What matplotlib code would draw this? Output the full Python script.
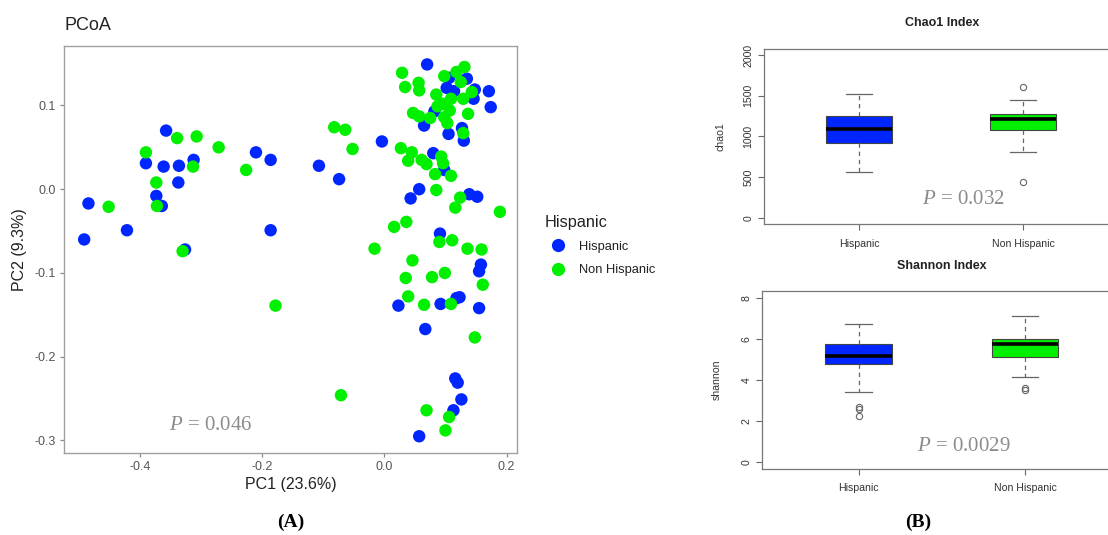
import matplotlib
matplotlib.use("Agg")
import matplotlib.pyplot as plt
from matplotlib.lines import Line2D

plt.rcParams['font.family'] = ['Liberation Sans', 'DejaVu Sans']
plt.rcParams['mathtext.fontset'] = 'custom'
plt.rcParams['mathtext.it'] = 'Liberation Serif:italic'
plt.rcParams['mathtext.rm'] = 'Liberation Serif'

# ---------------- data ----------------
hisp_pc1 = [-0.357, -0.390, -0.361, -0.336, -0.312, -0.337, -0.373, -0.364, -0.484, -0.491,
            -0.421, -0.326, -0.210, -0.186, -0.186, -0.107, -0.074, -0.004, 0.070, 0.106,
            0.135, 0.102, 0.114, 0.148, 0.171, 0.146, 0.174, 0.082, 0.065, 0.105,
            0.127, 0.130, 0.080, 0.098, 0.057, 0.043, 0.139, 0.152, 0.091, 0.158,
            0.155, 0.023, 0.092, 0.118, 0.123, 0.155, 0.067, 0.116, 0.120, 0.126,
            0.113, 0.057]
hisp_pc2 = [0.070, 0.031, 0.027, 0.028, 0.035, 0.008, -0.008, -0.020, -0.017, -0.060,
            -0.049, -0.072, 0.044, 0.035, -0.049, 0.028, 0.012, 0.057, 0.149, 0.133,
            0.132, 0.121, 0.117, 0.119, 0.117, 0.108, 0.098, 0.093, 0.076, 0.066,
            0.073, 0.058, 0.043, 0.023, 0.000, -0.011, -0.006, -0.009, -0.053, -0.090,
            -0.098, -0.139, -0.137, -0.130, -0.129, -0.142, -0.167, -0.226, -0.231, -0.251,
            -0.264, -0.295]
nonh_pc1 = [-0.390, -0.339, -0.307, -0.271, -0.313, -0.373, -0.372, -0.451, -0.330, -0.226,
            -0.178, -0.082, -0.064, -0.052, -0.071, 0.029, 0.098, 0.118, 0.131, 0.056,
            0.034, 0.057, 0.125, 0.085, 0.109, 0.129, 0.143, 0.096, 0.087, 0.107,
            0.047, 0.057, 0.075, 0.098, 0.103, 0.137, 0.129, 0.027, 0.045, 0.039,
            0.061, 0.069, 0.093, 0.096, 0.083, 0.109, 0.085, 0.124, 0.116, 0.189,
            0.016, 0.036, -0.016, 0.090, 0.111, 0.136, 0.159, 0.046, 0.099, 0.078,
            0.035, 0.161, 0.039, 0.065, 0.109, 0.148, 0.069, 0.106, 0.100]
nonh_pc2 = [0.044, 0.061, 0.063, 0.050, 0.027, 0.008, -0.020, -0.021, -0.074, 0.023,
            -0.139, 0.074, 0.071, 0.048, -0.246, 0.139, 0.135, 0.140, 0.146, 0.127,
            0.122, 0.118, 0.128, 0.113, 0.108, 0.108, 0.116, 0.102, 0.099, 0.094,
            0.091, 0.087, 0.085, 0.086, 0.079, 0.090, 0.067, 0.049, 0.044, 0.034,
            0.035, 0.030, 0.039, 0.031, 0.018, 0.016, -0.001, -0.010, -0.022, -0.027,
            -0.045, -0.039, -0.071, -0.063, -0.061, -0.071, -0.072, -0.085, -0.100, -0.105,
            -0.106, -0.114, -0.128, -0.138, -0.137, -0.177, -0.264, -0.272, -0.288]

groups = ['Hispanic', 'Non Hispanic']
# box statistics: (whislo, q1, median, q3, whishi, outliers)
chao1_stats = [(566, 922, 1094, 1250, 1517, []),
               (808, 1078, 1210, 1279, 1443, [1611, 435])]
shannon_stats = [(3.40, 4.79, 5.15, 5.76, 6.71, [2.70, 2.59, 2.23]),
                 (4.16, 5.11, 5.73, 5.99, 7.10, [3.59, 3.50])]
p_pcoa = '0.046'
p_chao = '0.032'
p_shan = '0.0029'

BLUE = '#0026ff'
GREEN = '#00f000'

W, H = 1108, 535
fig = plt.figure(figsize=(W / 100, H / 100), dpi=100)


def fx(px):
    return px / W


def fy(py):
    return 1 - py / H


def ptext(x, y, val):
    fig.text(fx(x), fy(y), r'$P$' + ' = ' + val, fontsize=15, color='#8c8c8c',
             family='Liberation Serif', ha='center', va='center')


# ---------------- (A) PCoA ----------------
ax = fig.add_axes([fx(64), fy(453), (517 - 64) / W, (453 - 46) / H])
ax.scatter(hisp_pc1, hisp_pc2, s=80, color=BLUE, edgecolors='none', zorder=2)
ax.scatter(nonh_pc1, nonh_pc2, s=80, color=GREEN, edgecolors='none', zorder=2)
ax.set_xlim(-0.524, 0.217)
ax.set_ylim(-0.315, 0.171)
ax.set_xticks([-0.4, -0.2, 0.0, 0.2])
ax.set_xticklabels(['-0.4', '-0.2', '0.0', '0.2'])
ax.set_yticks([0.1, 0.0, -0.1, -0.2, -0.3])
ax.set_yticklabels(['0.1', '0.0', '-0.1', '-0.2', '-0.3'])
for sp in ax.spines.values():
    sp.set_color('#a0a0a0')
    sp.set_linewidth(1.0)
ax.tick_params(length=3, width=0.9, color='#8a8a8a', labelcolor='#555555',
               labelsize=9, pad=3)
ax.set_xlabel('PC1 (23.6%)', fontsize=11.5, color='#222222', labelpad=3)
ax.set_ylabel('PC2 (9.3%)', fontsize=11.5, color='#222222', labelpad=5)
fig.text(fx(65), fy(26), 'PCoA', fontsize=13, color='#222222', ha='left', va='center')
ptext(210.5, 426, p_pcoa)

handles = [Line2D([], [], marker='o', ls='none', markersize=9.5, color=BLUE, mec='none'),
           Line2D([], [], marker='o', ls='none', markersize=9.5, color=GREEN, mec='none')]
leg = fig.legend(handles, groups, title='Hispanic', loc='upper left',
                 bbox_to_anchor=(fx(545), fy(215)), frameon=False, fontsize=9.3,
                 title_fontsize=11.7, borderpad=0, borderaxespad=0,
                 handlelength=2.0, handletextpad=0.6, labelspacing=0.85)
leg._legend_box.align = 'left'
leg.get_title().set_color('#222222')
for t in leg.get_texts():
    t.set_color('#222222')


# ---------------- (B) box plots ----------------
def draw_box(rect, stats, ylim, yticks, ylabel, title, title_y, pval, p_xy, ylab_x):
    bx = fig.add_axes(rect)
    bxp_stats = []
    for (lo, q1, med, q3, hi, fl), name in zip(stats, groups):
        bxp_stats.append(dict(whislo=lo, q1=q1, med=med, q3=q3, whishi=hi,
                              fliers=fl, label=name))
    bp = bx.bxp(bxp_stats, positions=[1, 2], widths=0.4, patch_artist=True,
                capwidths=0.16,
                boxprops=dict(edgecolor='#444444', linewidth=0.8),
                medianprops=dict(color='black', linewidth=2.6),
                whiskerprops=dict(color='#666666', linewidth=0.9, linestyle=(0, (3.5, 3))),
                capprops=dict(color='#666666', linewidth=0.9),
                flierprops=dict(marker='o', markersize=4.5, markerfacecolor='none',
                                markeredgecolor='#666666', markeredgewidth=0.8))
    for patch, c in zip(bp['boxes'], [BLUE, GREEN]):
        patch.set_facecolor(c)
    bx.set_xlim(0.42, 2.58)
    bx.set_ylim(*ylim)
    bx.set_yticks(yticks)
    bx.set_xticks([1, 2])
    bx.set_xticklabels(groups)
    for sp in bx.spines.values():
        sp.set_color('#777777')
        sp.set_linewidth(0.9)
    bx.tick_params(length=4.5, width=0.8, color='#666666', labelcolor='#333333',
                   labelsize=7.6, pad=3)
    bx.tick_params(axis='x', pad=6)
    for lbl in bx.get_yticklabels():
        lbl.set_rotation(90)
        lbl.set_va('center')
    fig.text(fx(ylab_x), (rect[1] + rect[3] / 2), ylabel, rotation=90, fontsize=7.6,
             color='#333333', ha='center', va='center')
    fig.text(fx(941.7), fy(title_y), title, fontsize=9, fontweight='bold',
             color='#222222', ha='center', va='center')
    ptext(p_xy[0], p_xy[1], pval)
    return bx


draw_box([fx(764), fy(224.2), (1118.4 - 764) / W, (224.2 - 48.5) / H],
         chao1_stats, (-80, 2080), [0, 500, 1000, 1500, 2000], 'chao1',
         'Chao1 Index', 23.3, p_chao, (963.5, 199), 720)
draw_box([fx(762), fy(468.9), (1121.7 - 762) / W, (468.9 - 291.1) / H],
         shannon_stats, (-0.32, 8.32), [0, 2, 4, 6, 8], 'shannon',
         'Shannon Index', 265.7, p_shan, (963.5, 446.7), 716.7)

fig.text(fx(291), fy(522), '(A)', fontsize=14, fontweight='bold',
         family='Liberation Serif', ha='center', va='center')
fig.text(fx(918.5), fy(522), '(B)', fontsize=14, fontweight='bold',
         family='Liberation Serif', ha='center', va='center')

fig.savefig('out.png', dpi=100)
